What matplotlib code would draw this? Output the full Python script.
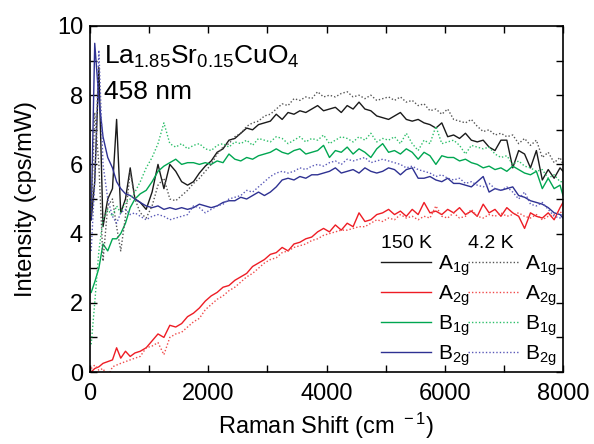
import matplotlib
matplotlib.use("Agg")
import matplotlib.pyplot as plt
from matplotlib.ticker import MultipleLocator
from matplotlib.lines import Line2D

plt.rcParams['font.family'] = ['Liberation Sans', 'DejaVu Sans']
plt.rcParams['mathtext.fontset'] = 'custom'
plt.rcParams['mathtext.rm'] = 'Liberation Sans'
plt.rcParams['mathtext.it'] = 'Liberation Sans'

# Raman shift (cm^-1)
shift = [20, 80, 150, 220, 300, 380, 450, 520, 600, 680, 760, 850] + list(range(950, 8000, 100)) + [8000]

a1g_150 = [4.4, 5.5, 8.8, 4.2, 5.0, 5.3, 7.3, 4.6, 5.0, 5.9, 5.0, 4.9,
           4.7, 5.2, 6.0, 5.3, 6.0, 5.8, 5.5, 5.4, 5.5, 5.75,
           5.95, 6.1, 6.35, 6.45, 6.7, 6.75, 6.9, 7.05, 7.0, 7.15,
           7.2, 7.25, 7.45, 7.3, 7.5, 7.45, 7.55, 7.5, 7.6, 7.7,
           7.55, 7.6, 7.65, 7.5, 7.7, 7.6, 7.8, 7.6, 7.55, 7.4,
           7.35, 7.3, 7.4, 7.5, 7.3, 7.25, 7.3, 7.2, 7.15, 7.05,
           7.2, 6.8, 6.85, 6.75, 6.9, 6.7, 6.65, 6.7, 6.5, 6.4,
           6.7, 6.7, 5.9, 6.4, 6.3, 5.9, 6.4, 5.55, 5.85, 5.6,
           5.9, 5.8]
a1g_4k = [4.5, 7.5, 6.0, 3.2, 4.8, 5.0, 4.2, 3.5, 4.5, 5.8, 5.0, 4.6,
          4.45, 4.8, 5.4, 5.6, 5.0, 4.95, 5.1, 5.25, 5.45, 5.6,
          5.8, 6.0, 6.3, 6.5, 6.6, 6.8, 6.9, 7.1, 7.2, 7.25,
          7.4, 7.45, 7.6, 7.75, 7.7, 7.9, 7.85, 7.95, 7.9, 8.1,
          7.95, 8.0, 7.95, 8.05, 8.1, 7.95, 8.0, 7.9, 8.0, 7.85,
          7.9, 7.95, 7.85, 7.95, 7.8, 7.85, 7.7, 7.75, 7.55, 7.6,
          7.45, 7.6, 7.3, 7.25, 7.2, 7.3, 7.1, 6.95, 7.0, 6.85,
          6.9, 6.8, 6.85, 6.6, 6.75, 6.55, 6.7, 6.2, 6.35, 6.05,
          6.2, 6.0]
a2g_150 = [0.0, 0.1, 0.15, 0.25, 0.3, 0.35, 0.7, 0.4, 0.6, 0.45, 0.55, 0.6,
           0.7, 0.9, 1.1, 1.0, 1.35, 1.3, 1.4, 1.6, 1.7, 1.85,
           2.05, 2.2, 2.3, 2.45, 2.5, 2.65, 2.75, 2.85, 3.05, 3.15,
           3.25, 3.4, 3.45, 3.6, 3.5, 3.7, 3.75, 3.85, 3.9, 4.05,
           4.15, 4.05, 4.25, 4.1, 4.3, 4.2, 4.6, 4.35, 4.4, 4.55,
           4.6, 4.7, 4.55, 4.65, 4.5, 4.7, 4.55, 4.9, 4.6, 4.65,
           4.55, 4.7, 4.6, 4.75, 4.55, 4.65, 4.5, 4.85, 4.6, 4.7,
           4.5, 4.75, 4.6, 4.5, 4.15, 4.6, 4.5, 4.45, 4.6, 4.4,
           4.75, 4.9]
a2g_4k = [0.1, 0.2, 0.05, 0.1, -0.15, 0.15, 0.2, 0.25, 0.3, 0.35, 0.4, 0.45,
          0.7, 0.75, 0.85, 0.5, 1.0, 1.1, 1.15, 1.3, 1.45, 1.55,
          1.8, 1.95, 2.1, 2.2, 2.35, 2.45, 2.6, 2.75, 2.85, 3.0,
          3.15, 3.25, 3.3, 3.45, 3.5, 3.6, 3.65, 3.7, 3.8, 3.85,
          3.95, 4.0, 4.05, 4.1, 4.1, 4.15, 4.2, 4.2, 4.3, 4.4,
          4.35, 4.45, 4.4, 4.55, 4.45, 4.5, 4.4, 4.5, 4.45, 4.8,
          4.5, 4.45, 4.6, 4.45, 4.5, 4.7, 4.5, 4.45, 4.55, 4.5,
          4.6, 4.5, 4.55, 4.6, 4.5, 4.45, 4.55, 4.4, 4.5, 4.55,
          4.6, 4.65]
b1g_150 = [2.3, 2.6, 3.0, 3.7, 3.5, 3.85, 3.85, 4.0, 4.3, 4.75, 5.0, 5.15,
           5.25, 5.5, 5.8, 5.95, 6.05, 6.15, 6.0, 6.05, 6.05, 6.0,
           6.05, 6.0, 6.1, 6.05, 6.3, 6.15, 6.1, 6.2, 6.15, 6.25,
           6.3, 6.35, 6.45, 6.35, 6.3, 6.4, 6.45, 6.3, 6.35, 6.4,
           6.55, 6.2, 6.4, 6.35, 6.5, 6.3, 6.45, 6.35, 6.2, 6.45,
           6.6, 6.35, 6.4, 6.3, 6.45, 6.35, 6.15, 6.35, 6.25, 6.0,
           6.25, 6.2, 6.2, 6.1, 6.15, 6.05, 6.0, 5.9, 5.95, 5.85,
           5.9, 5.8, 5.95, 5.85, 5.75, 5.7, 5.8, 5.3, 5.6, 5.3,
           5.4, 5.1]
b1g_4k = [0.8, 2.0, 3.5, 4.4, 4.7, 4.5, 4.8, 4.6, 4.9, 5.0, 5.2, 5.5,
          5.9, 6.2, 6.6, 7.2, 6.6, 6.5, 6.6, 6.45, 6.55, 6.6,
          6.45, 6.4, 6.55, 6.6, 6.5, 6.65, 6.6, 6.7, 6.55, 6.75,
          6.7, 6.65, 6.8, 6.75, 6.6, 6.7, 6.8, 6.65, 6.75, 6.7,
          6.85, 6.6, 6.7, 6.8, 6.75, 6.65, 6.8, 6.7, 6.9, 6.65,
          6.75, 6.7, 6.8, 6.6, 6.9, 6.6, 6.4, 6.7, 6.6, 7.1,
          6.6, 6.65, 6.7, 6.55, 6.3, 6.55, 6.5, 6.45, 6.5, 6.3,
          6.2, 6.25, 6.0, 6.1, 5.95, 5.9, 5.8, 5.85, 5.6, 5.7,
          5.5, 5.5]
b2g_150 = [4.4, 9.5, 7.9, 6.8, 6.2, 5.9, 5.5, 5.3, 5.15, 5.1, 5.0, 4.9,
           4.8, 4.75, 4.8, 4.7, 4.75, 4.7, 4.75, 4.7, 4.75, 4.85,
           4.8, 4.75, 4.8, 4.9, 4.95, 4.95, 5.05, 5.0, 5.1, 5.2,
           5.1, 5.2, 5.35, 5.55, 5.6, 5.55, 5.65, 5.6, 5.7, 5.7,
           5.75, 5.8, 5.9, 5.75, 5.8, 5.85, 5.75, 5.9, 5.8, 5.75,
           5.8, 5.9, 5.85, 5.7, 5.85, 5.9, 5.6, 5.6, 5.65, 5.55,
           5.5, 5.6, 5.45, 5.45, 5.4, 5.35, 5.5, 5.65, 5.2, 5.3,
           5.25, 5.3, 5.35, 5.1, 5.05, 4.95, 4.9, 4.85, 4.75, 4.6,
           4.55, 4.45]
b2g_4k = [3.5, 5.5, 9.3, 6.0, 5.0, 4.5, 4.3, 4.6, 4.7, 4.55, 4.6, 4.5,
          4.4, 4.5, 4.55, 4.5, 4.4, 4.45, 4.5, 4.55, 4.8, 4.75,
          4.6, 4.7, 4.8, 4.85, 5.0, 5.05, 5.1, 5.25, 5.2, 5.35,
          5.5, 5.65, 5.75, 5.8, 5.75, 5.8, 5.9, 5.85, 5.95, 6.0,
          5.95, 6.05, 6.1, 6.0, 6.15, 6.1, 6.15, 6.2, 6.05, 6.1,
          6.15, 6.1, 6.05, 6.0, 5.9, 5.95, 5.85, 5.8, 5.75, 5.65,
          5.7, 5.6, 5.55, 5.6, 5.45, 5.5, 5.4, 5.35, 5.45, 5.3,
          5.25, 5.35, 5.2, 5.0, 5.2, 4.85, 4.8, 4.9, 4.7, 4.5,
          4.45, 4.6]

sym_labels = [r'A$_{\rm 1g}$', r'A$_{\rm 2g}$', r'B$_{\rm 1g}$', r'B$_{\rm 2g}$']
temp_labels = ['150 K', '4.2 K']
solid_colors = ['#1a1a1a', '#ee1c24', '#00a651', '#2e3192']
dotted_colors = ['#555555', '#f04a4a', '#2dbf6a', '#5a5ab8']

fig = plt.figure(figsize=(5.94, 4.44), dpi=100)
ax = fig.add_axes([90/594, 1 - 372/444, (563-90)/594, (372-26)/444])

series_150 = [a1g_150, a2g_150, b1g_150, b2g_150]
series_4k = [a1g_4k, a2g_4k, b1g_4k, b2g_4k]
for ys, c in zip(series_150, solid_colors):
    ax.plot(shift, ys, color=c, lw=1.0, ls='-')
for ys, c in zip(series_4k, dotted_colors):
    ax.plot(shift, ys, color=c, lw=1.0, ls=(0, (1, 1.5)))

ax.set_xlim(0, 8000)
ax.set_ylim(0, 10)
ax.xaxis.set_major_locator(MultipleLocator(2000))
ax.xaxis.set_minor_locator(MultipleLocator(1000))
ax.yaxis.set_major_locator(MultipleLocator(2))
ax.yaxis.set_minor_locator(MultipleLocator(1))
ax.tick_params(which='both', direction='in', top=True, right=True, length=5, width=1.0)
ax.tick_params(which='major', labelsize=17)
ax.tick_params(axis='x', which='major', pad=8)
ax.tick_params(axis='y', which='major', pad=5)
for s in ax.spines.values():
    s.set_linewidth(1.2)

ax.set_xlabel(r'Raman Shift (cm $^{\rm -1}$)', fontsize=17, labelpad=4)
ax.set_ylabel('Intensity (cps/mW)', fontsize=17, labelpad=14)

ax.text(0.03, 0.948, r'La$_{\rm 1.85}$Sr$_{\rm 0.15}$CuO$_{\rm 4}$', transform=ax.transAxes,
        fontsize=19, va='top', ha='left')
ax.text(0.03, 0.845, '458 nm', transform=ax.transAxes, fontsize=19, va='top', ha='left')

# temperature headers
ax.text((381-90)/473, (372-243)/346, temp_labels[0], transform=ax.transAxes,
        fontsize=14, va='center', ha='left')
ax.text((468-90)/473, (372-243)/346, temp_labels[1], transform=ax.transAxes,
        fontsize=14, va='center', ha='left')

h150 = [Line2D([], [], color=c, lw=1.0) for c in solid_colors]
h4k = [Line2D([], [], color=c, lw=1.0, ls=(0, (1, 1.5))) for c in dotted_colors]
common = dict(loc='upper left', frameon=False, fontsize=15, handlelength=2.4,
              handletextpad=0.35, labelspacing=0.27, borderaxespad=0, borderpad=0)
leg1 = ax.legend(h150, sym_labels, bbox_to_anchor=((381-90)/473, (372-253)/346), **common)
ax.add_artist(leg1)
leg2 = ax.legend(h4k, sym_labels, bbox_to_anchor=((468-90)/473, (372-253)/346), **common)

fig.savefig('out.png', dpi=100)
